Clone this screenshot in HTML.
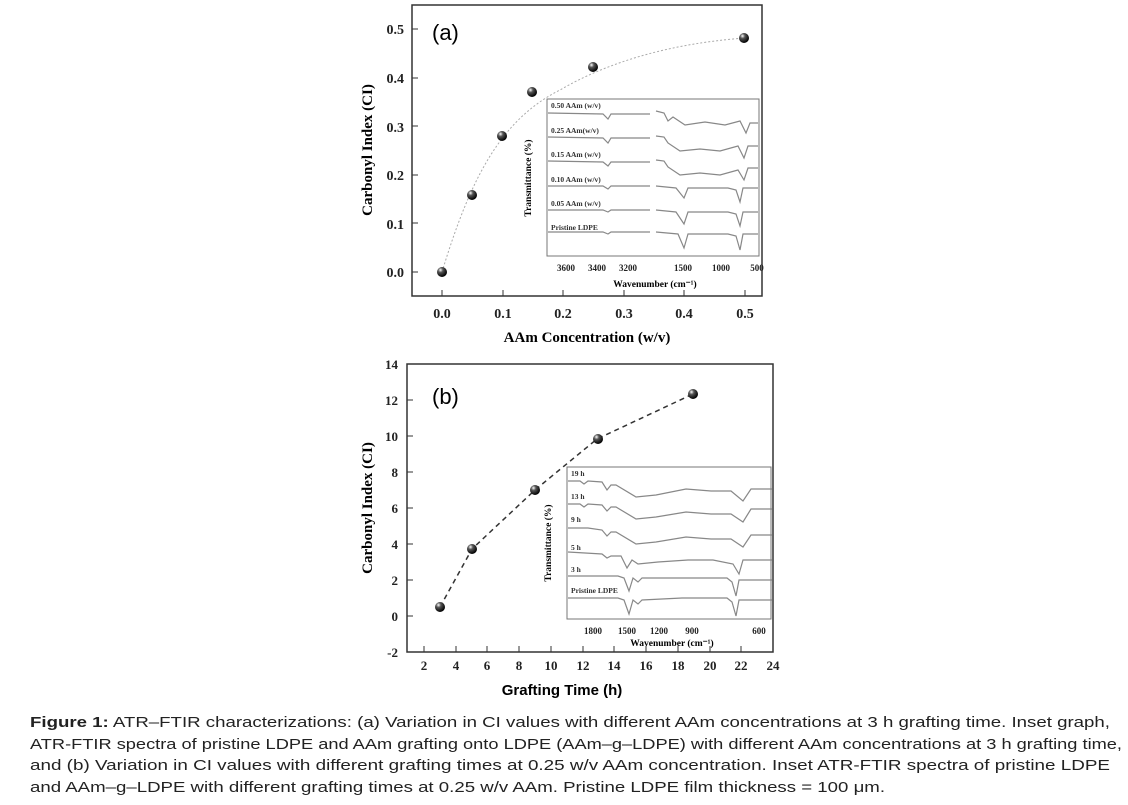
<!DOCTYPE html><html><head><style>
body{margin:0;background:#fff;width:1128px;height:805px;overflow:hidden;font-family:"Liberation Serif",serif}
</style></head><body>
<svg width="1128" height="805" style="position:absolute;left:0;top:0" font-family="Liberation Serif" font-weight="bold">
<defs><radialGradient id="g" cx="0.35" cy="0.3" r="0.7"><stop offset="0" stop-color="#fff"/><stop offset="0.35" stop-color="#555"/><stop offset="1" stop-color="#000"/></radialGradient></defs>
<!-- chart a -->
<rect x="412" y="5" width="350" height="291" fill="none" stroke="#333" stroke-width="1.5"/>
<g font-size="14" text-anchor="end" fill="#222">
<text x="404" y="277">0.0</text><text x="404" y="229">0.1</text><text x="404" y="180">0.2</text><text x="404" y="132">0.3</text><text x="404" y="83">0.4</text><text x="404" y="34">0.5</text></g>
<g stroke="#333"><path d="M412 272h6M412 223h6M412 175h6M412 126h6M412 78h6M412 29h6M442 296v-6M503 296v-6M563 296v-6M624 296v-6M684 296v-6M745 296v-6"/></g>
<g font-size="14" text-anchor="middle" fill="#222"><text x="442" y="318">0.0</text><text x="503" y="318">0.1</text><text x="563" y="318">0.2</text><text x="624" y="318">0.3</text><text x="684" y="318">0.4</text><text x="745" y="318">0.5</text></g>
<text x="587" y="342" font-size="15" text-anchor="middle">AAm Concentration (w/v)</text>
<text transform="translate(372,150) rotate(-90)" font-size="15" text-anchor="middle">Carbonyl Index (CI)</text>
<text x="432" y="40" font-size="22" font-weight="normal" font-family="Liberation Sans">(a)</text>
<path d="M442 272 C470 180 500 120 560 90 C620 55 690 42 745 38" fill="none" stroke="#aaa" stroke-dasharray="2 2"/>
<g fill="url(#g)"><circle cx="442" cy="272" r="5"/><circle cx="472" cy="195" r="5"/><circle cx="502" cy="136" r="5"/><circle cx="532" cy="92" r="5"/><circle cx="593" cy="67" r="5"/><circle cx="744" cy="38" r="5"/></g>
<rect x="547" y="99" width="212" height="157" fill="#fff" stroke="#777"/>
<g font-size="7.5" fill="#333"><text x="551" y="108">0.50 AAm (w/v)</text><text x="551" y="133">0.25 AAm(w/v)</text><text x="551" y="157">0.15 AAm (w/v)</text><text x="551" y="182">0.10 AAm (w/v)</text><text x="551" y="206">0.05 AAm (w/v)</text><text x="551" y="230">Pristine LDPE</text></g>
<g fill="none" stroke="#888" stroke-width="1.2">
<path d="M548 113 l55 1 l5 5 l3 -5 l39 0 M656 111 l8 2 l4 8 l5 -4 l12 8 l20 -3 l20 3 l15 -4 l6 12 l4 -10 l8 0"/>
<path d="M548 137 l55 1 l5 5 l3 -5 l39 0 M656 136 l8 1 l4 6 l12 8 l20 -2 l20 2 l18 -5 l6 12 l4 -12 l10 0"/>
<path d="M548 161 l55 1 l5 4 l3 -4 l39 0 M656 160 l8 1 l4 6 l12 8 l20 -2 l20 2 l18 -5 l6 10 l4 -12 l10 0"/>
<path d="M548 186 l55 0 l5 3 l3 -3 l39 0 M656 186 l20 2 l8 10 l4 -10 l40 0 l8 2 l4 12 l3 -14 l15 0"/>
<path d="M548 210 l55 0 l5 2 l3 -2 l39 0 M656 210 l20 2 l8 12 l4 -12 l40 0 l8 2 l4 12 l3 -14 l15 0"/>
<path d="M548 232 l55 0 l5 2 l3 -2 l39 0 M656 232 l22 2 l6 14 l4 -14 l40 0 l8 2 l4 14 l3 -16 l15 0"/>
</g>
<g font-size="9" text-anchor="middle" fill="#222"><text x="566" y="271">3600</text><text x="597" y="271">3400</text><text x="628" y="271">3200</text><text x="683" y="271">1500</text><text x="721" y="271">1000</text><text x="757" y="271">500</text></g>
<text x="655" y="287" font-size="9.5" text-anchor="middle">Wavenumber (cm⁻¹)</text>
<text transform="translate(531,178) rotate(-90)" font-size="9.5" text-anchor="middle">Transmittance (%)</text>
<!-- chart b -->
<rect x="407" y="364" width="366" height="288" fill="none" stroke="#333" stroke-width="1.5"/>
<g font-size="13" text-anchor="end" fill="#222">
<text x="398" y="657">-2</text><text x="398" y="621">0</text><text x="398" y="585">2</text><text x="398" y="549">4</text><text x="398" y="513">6</text><text x="398" y="477">8</text><text x="398" y="441">10</text><text x="398" y="405">12</text><text x="398" y="369">14</text></g>
<g stroke="#333"><path d="M407 616h6M407 580h6M407 544h6M407 508h6M407 472h6M407 436h6M407 400h6M424 652v-6M456 652v-6M487 652v-6M519 652v-6M551 652v-6M583 652v-6M614 652v-6M646 652v-6M678 652v-6M710 652v-6M741 652v-6"/></g>
<g font-size="13" text-anchor="middle" fill="#222"><text x="424" y="670">2</text><text x="456" y="670">4</text><text x="487" y="670">6</text><text x="519" y="670">8</text><text x="551" y="670">10</text><text x="583" y="670">12</text><text x="614" y="670">14</text><text x="646" y="670">16</text><text x="678" y="670">18</text><text x="710" y="670">20</text><text x="741" y="670">22</text><text x="773" y="670">24</text></g>
<text x="562" y="695" font-size="15" font-family="Liberation Sans" text-anchor="middle">Grafting Time (h)</text>
<text transform="translate(372,508) rotate(-90)" font-size="15" text-anchor="middle">Carbonyl Index (CI)</text>
<text x="432" y="404" font-size="22" font-weight="normal" font-family="Liberation Sans">(b)</text>
<path d="M440 607 L472 549 L535 490 L597 439 L693 394" fill="none" stroke="#333" stroke-width="1.5" stroke-dasharray="5 4"/>
<g fill="url(#g)"><circle cx="440" cy="607" r="5"/><circle cx="472" cy="549" r="5"/><circle cx="535" cy="490" r="5"/><circle cx="598" cy="439" r="5"/><circle cx="693" cy="394" r="5"/></g>
<rect x="567" y="467" width="204" height="152" fill="#fff" stroke="#777"/>
<g font-size="7.5" fill="#333"><text x="571" y="476">19 h</text><text x="571" y="499">13 h</text><text x="571" y="522">9 h</text><text x="571" y="550">5 h</text><text x="571" y="572">3 h</text><text x="571" y="593">Pristine LDPE</text></g>
<g fill="none" stroke="#888" stroke-width="1.2">
<path d="M568 481 l12 0 l4 3 l4 -3 l14 1 l5 8 l4 -5 l5 0 l20 12 l20 -2 l30 -6 l25 2 l20 0 l12 10 l8 -12 l21 0"/>
<path d="M568 504 l12 0 l4 3 l4 -3 l14 1 l5 6 l4 -4 l5 0 l20 12 l20 -2 l30 -5 l25 2 l20 0 l12 8 l8 -13 l21 0"/>
<path d="M568 528 l20 0 l14 2 l5 6 l4 -4 l5 0 l20 12 l20 -2 l30 -5 l25 2 l20 0 l12 8 l8 -12 l21 0"/>
<path d="M568 552 l34 2 l5 4 l4 -2 l10 0 l6 12 l5 -8 l6 4 l20 -2 l30 -2 l25 0 l20 4 l6 10 l4 -14 l29 0"/>
<path d="M568 576 l50 0 l6 2 l5 13 l4 -13 l5 4 l4 -4 l40 0 l45 0 l5 4 l4 14 l3 -16 l33 0"/>
<path d="M568 598 l50 0 l6 2 l5 14 l4 -14 l5 4 l4 -4 l40 -2 l45 0 l5 4 l4 14 l3 -16 l33 0"/>
</g>
<g font-size="9" text-anchor="middle" fill="#222"><text x="593" y="634">1800</text><text x="627" y="634">1500</text><text x="659" y="634">1200</text><text x="692" y="634">900</text><text x="759" y="634">600</text></g>
<text x="672" y="646" font-size="9.5" text-anchor="middle">Wavenumber (cm⁻¹)</text>
<text transform="translate(551,543) rotate(-90)" font-size="9.5" text-anchor="middle">Transmittance (%)</text>
<g font-family="Liberation Sans" font-weight="normal" font-size="15" fill="#222" lengthAdjust="spacingAndGlyphs">
<text x="30" y="727" textLength="1080" lengthAdjust="spacingAndGlyphs"><tspan font-weight="bold">Figure 1:</tspan> ATR–FTIR characterizations: (a) Variation in CI values with different AAm concentrations at 3 h grafting time. Inset graph,</text>
<text x="30" y="749" textLength="1092" lengthAdjust="spacingAndGlyphs">ATR-FTIR spectra of pristine LDPE and AAm grafting onto LDPE (AAm–g–LDPE) with different AAm concentrations at 3 h grafting time,</text>
<text x="30" y="770" textLength="1080" lengthAdjust="spacingAndGlyphs">and (b) Variation in CI values with different grafting times at 0.25 w/v AAm concentration. Inset ATR-FTIR spectra of pristine LDPE</text>
<text x="30" y="792" textLength="855" lengthAdjust="spacingAndGlyphs">and AAm–g–LDPE with different grafting times at 0.25 w/v AAm. Pristine LDPE film thickness = 100 μm.</text>
</g>
</svg>
</body></html>
